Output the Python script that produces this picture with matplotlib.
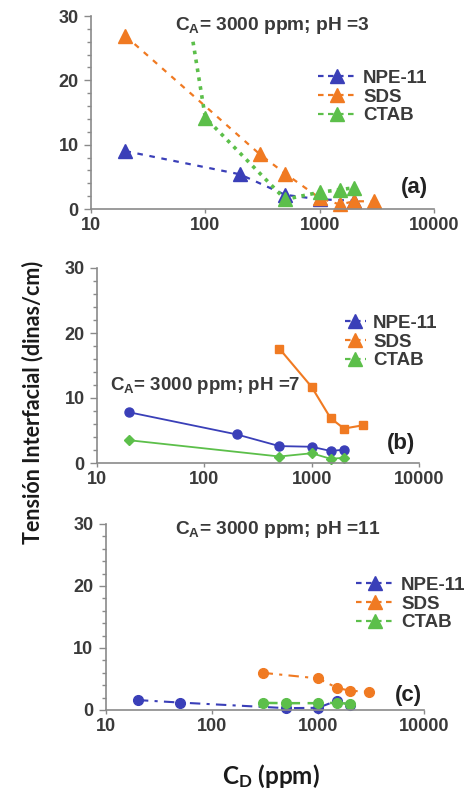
import matplotlib
matplotlib.use("Agg")
import matplotlib.pyplot as plt
from matplotlib.lines import Line2D
from matplotlib.ticker import MultipleLocator, NullLocator

plt.rcParams['font.family'] = ['Liberation Sans', 'DejaVu Sans']
plt.rcParams['mathtext.fontset'] = 'custom'
plt.rcParams['mathtext.rm'] = 'Liberation Sans:bold'
plt.rcParams['mathtext.bf'] = 'Liberation Sans:bold'
plt.rcParams['mathtext.it'] = 'Liberation Sans:bold'
plt.rcParams['mathtext.sf'] = 'Lato:bold'

# ---------------- data ----------------
series_names = ["NPE-11", "SDS", "CTAB"]
colors = ["#3a3fb8", "#f07a22", "#5cbf4a"]

# (a) pH = 3
a_npe_x = [20, 200, 500, 1000, 2000]
a_npe_y = [9.0, 5.4, 2.2, 1.5, 1.3]
a_sds_x = [20, 300, 500, 1000, 1500, 2000, 3000]
a_sds_y = [26.9, 8.5, 5.5, 1.7, 0.7, 1.2, 1.2]
a_ctab_x = [78, 100, 500, 1000, 1500, 2000]
a_ctab_y = [26.0, 14.2, 1.5, 2.6, 3.0, 3.3]

# (b) pH = 7
b_npe_x = [20, 200, 500, 1000, 1500, 2000]
b_npe_y = [7.8, 4.4, 2.6, 2.5, 1.85, 2.05]
b_sds_x = [500, 1000, 1500, 2000, 3000]
b_sds_y = [17.6, 11.7, 6.9, 5.3, 5.8]
b_ctab_x = [20, 500, 1000, 1500, 2000]
b_ctab_y = [3.5, 1.0, 1.5, 0.65, 0.8]

# (c) pH = 11
c_npe_x = [20, 50, 500, 1000, 1500, 2000]
c_npe_y = [1.6, 1.2, 0.3, 0.35, 1.5, 0.8]
c_sds_x = [300, 1000, 1500, 2000, 3000]
c_sds_y = [6.0, 5.1, 3.6, 3.1, 2.95]
c_ctab_x = [300, 500, 1000, 1500, 2000]
c_ctab_y = [1.15, 1.1, 1.1, 1.15, 1.0]

x_ticks = [10, 100, 1000, 10000]
x_tick_labels = ["10", "100", "1000", "10000"]
y_ticks = [0, 10, 20, 30]
panel_tags = ["(a)", "(b)", "(c)"]
titles = ["C$_{\\mathrm{A}}$= 3000 ppm; pH =3",
          "C$_{\\mathrm{A}}$= 3000 ppm; pH =7",
          "C$_{\\mathrm{A}}$= 3000 ppm; pH =11"]
y_label = "Tensión Interfacial (dinas/cm)"
x_label = "C$_{\\mathsf{D}}$ (ppm)"

W, H = 466, 790
fig = plt.figure(figsize=(W / 100, H / 100), dpi=100)

TXT = "#3a3a3a"
SPINE = "#8a8a8a"


def make_ax(left, right, top, bottom):
    ax = fig.add_axes([left / W, 1 - bottom / H, (right - left) / W, (bottom - top) / H])
    ax.set_xscale('log')
    ax.set_xlim(10, 10000)
    ax.set_ylim(0, 30)
    for s in ['top', 'right']:
        ax.spines[s].set_visible(False)
    for s in ['left', 'bottom']:
        ax.spines[s].set_color(SPINE)
        ax.spines[s].set_linewidth(1.2)
    ax.set_xticks(x_ticks, x_tick_labels)
    ax.xaxis.set_minor_locator(NullLocator())
    ax.set_yticks(y_ticks)
    ax.yaxis.set_minor_locator(MultipleLocator(2))
    ax.tick_params(axis='both', which='major', labelsize=13, labelcolor=TXT,
                   color=SPINE, width=1, pad=3)
    ax.tick_params(axis='y', which='major', length=5, pad=4)
    ax.tick_params(axis='x', which='major', length=3)
    ax.tick_params(axis='y', which='minor', length=3, color=SPINE, width=1)
    for lab in ax.get_xticklabels() + ax.get_yticklabels():
        lab.set_fontweight('bold')
    return ax


def add_legend(ax, x0, yc, hl):
    handles = [Line2D([], [], color=c, ls=(0, (2.5, 2)), lw=1.6, marker='^', ms=10)
               for c in colors]
    leg = ax.legend(handles, series_names, loc='center left',
                    bbox_to_anchor=(x0 / W, 1 - yc / H), bbox_transform=fig.transFigure,
                    frameon=False, borderpad=0, borderaxespad=0, handlelength=hl,
                    handletextpad=0.4, labelspacing=0.08, numpoints=1,
                    prop={'family': 'Liberation Sans', 'weight': 'bold', 'size': 13.5})
    for t in leg.get_texts():
        t.set_color(TXT)
    return leg


# ---------- (a) ----------
axa = make_ax(91, 434, 16, 209)
axa.plot(a_npe_x, a_npe_y, color=colors[0], ls=(0, (2.5, 3)), lw=1.6,
         marker='^', ms=10, clip_on=False)
axa.plot(a_sds_x, a_sds_y, color=colors[1], ls=(0, (2.5, 3)), lw=1.6,
         marker='^', ms=10, clip_on=False)
axa.plot(a_ctab_x, a_ctab_y, color=colors[2], ls=(0, (1, 1.5)), lw=2.6,
         marker='^', ms=10, markevery=list(range(1, len(a_ctab_x))), clip_on=False)
add_legend(axa, 318, 97, 2.0)
axa.text(175 / W, 1 - 25 / H, titles[0], transform=fig.transFigure, fontsize=13.8,
         fontweight='bold', color=TXT, ha='left', va='center')
axa.text(414 / W, 1 - 188 / H, panel_tags[0], transform=fig.transFigure, fontsize=16,
         fontweight='bold', color="#222222", ha='center', va='center')

# ---------- (b) ----------
axb = make_ax(97, 419, 268, 463)
axb.plot(b_npe_x, b_npe_y, color=colors[0], ls='-', lw=1.3, marker='o', ms=6.5, clip_on=False)
axb.plot(b_sds_x, b_sds_y, color=colors[1], ls='-', lw=1.5, marker='s', ms=6, clip_on=False)
axb.plot(b_ctab_x, b_ctab_y, color=colors[2], ls='-', lw=1.3, marker='D', ms=5.5, clip_on=False)
add_legend(axb, 345, 342, 1.1)
axb.text(110 / W, 1 - 386 / H, titles[1], transform=fig.transFigure, fontsize=13.5,
         fontweight='bold', color=TXT, ha='left', va='center')
axb.text(401 / W, 1 - 443 / H, panel_tags[1], transform=fig.transFigure, fontsize=16,
         fontweight='bold', color="#222222", ha='center', va='center')

# ---------- (c) ----------
axc = make_ax(106, 424, 524, 710)
axc.plot(c_npe_x, c_npe_y, color=colors[0], ls=(0, (5, 3, 1.5, 3)), lw=1.5,
         marker='o', ms=7, clip_on=False)
axc.plot(c_sds_x, c_sds_y, color=colors[1], ls=(0, (5, 3, 1.5, 3)), lw=1.5,
         marker='o', ms=7, clip_on=False)
axc.plot(c_ctab_x, c_ctab_y, color=colors[2], ls=(0, (6, 3)), lw=1.8,
         marker='o', ms=7, clip_on=False)
add_legend(axc, 356, 604, 2.0)
axc.text(175 / W, 1 - 530 / H, titles[2], transform=fig.transFigure, fontsize=13.8,
         fontweight='bold', color=TXT, ha='left', va='center')
axc.text(408 / W, 1 - 695 / H, panel_tags[2], transform=fig.transFigure, fontsize=16,
         fontweight='bold', color="#222222", ha='center', va='center')

# ---------- shared labels ----------
fig.text(33 / W, 1 - 402 / H, y_label, rotation=90, ha='center', va='center',
         fontsize=15.5, fontweight='bold', family=['Lato', 'DejaVu Sans'], color="#1a1a1a")
fig.text(271 / W, 1 - 776 / H, x_label, ha='center', va='center',
         fontsize=17.5, fontweight='bold', family=['Lato', 'DejaVu Sans'], color="#1a1a1a")

fig.savefig("out.png", dpi=100)
